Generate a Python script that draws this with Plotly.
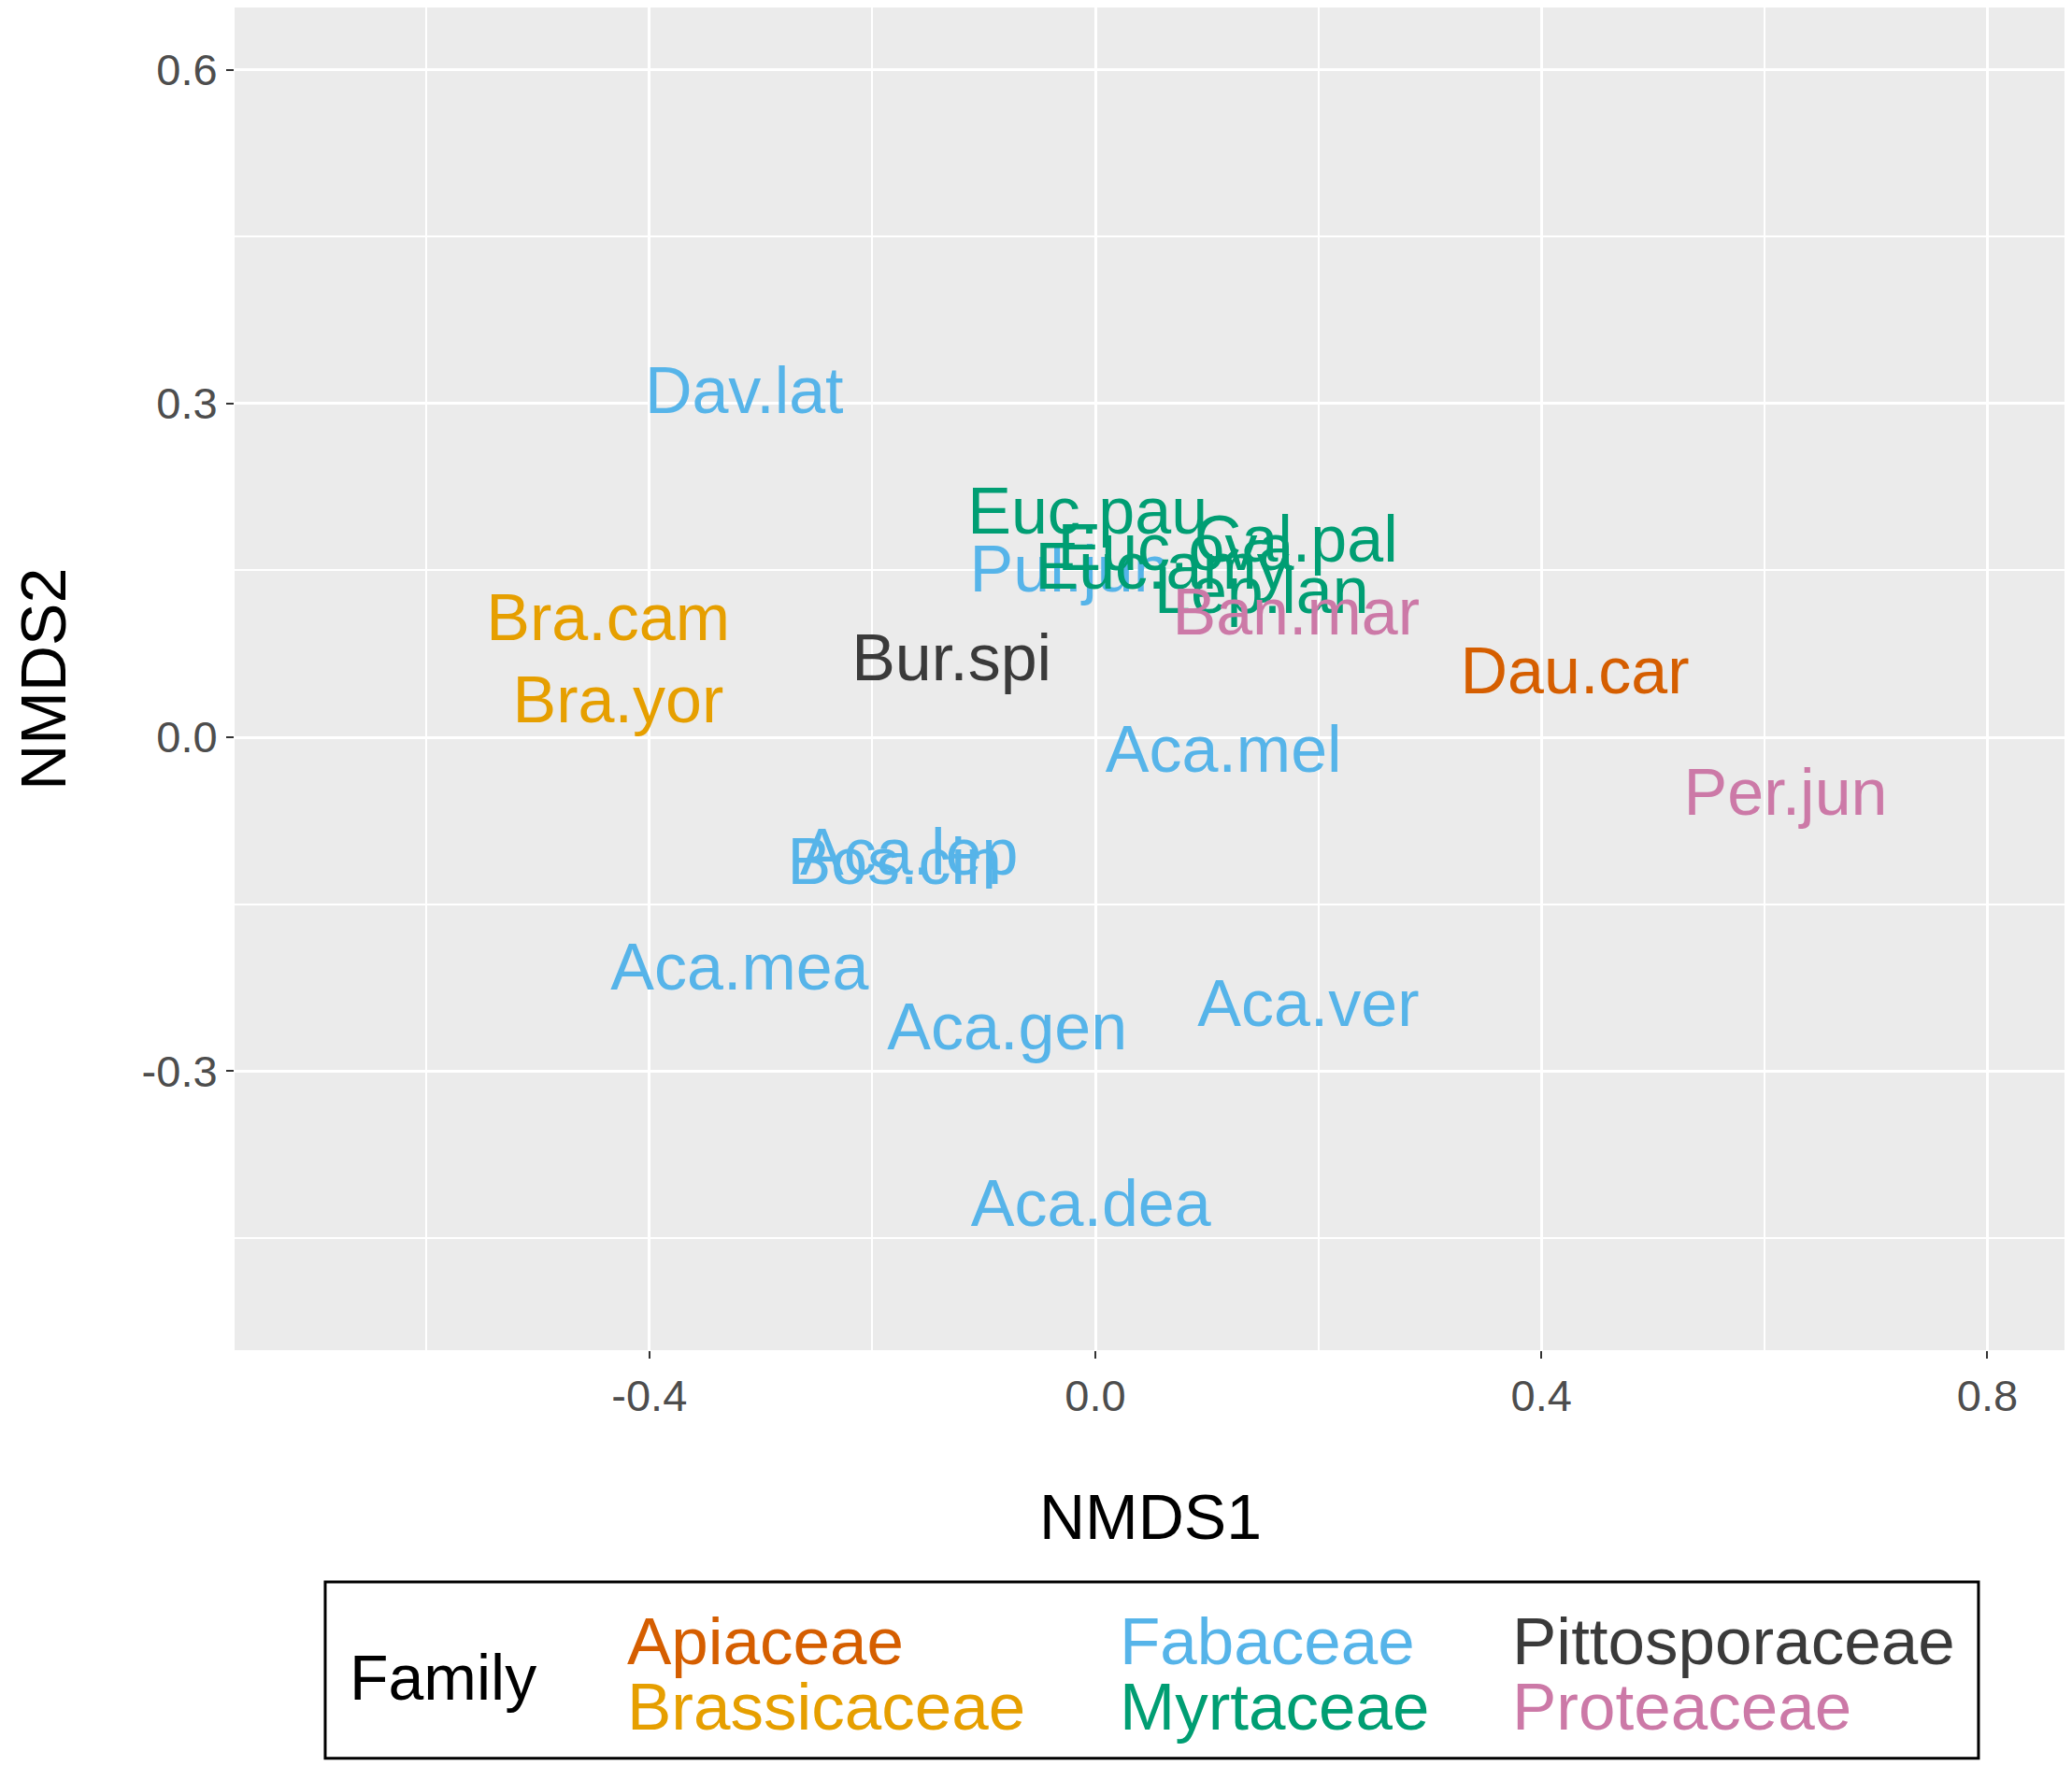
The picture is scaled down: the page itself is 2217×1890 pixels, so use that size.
import plotly.graph_objects as go

# NMDS scores
species = ['Dav.lat', 'Euc.pau', 'Euc.ova', 'Euc.amy', 'Cal.pal', 'Lep.lan',
           'Pul.jun', 'Ban.mar', 'Bra.cam', 'Bra.yor', 'Bur.spi', 'Dau.car',
           'Aca.mel', 'Per.jun', 'Aca.lep', 'Bos.cin', 'Aca.mea', 'Aca.gen',
           'Aca.ver', 'Aca.dea']
nmds1 = [-0.315, -0.007, 0.072, 0.060, 0.180, 0.149,
         -0.023, 0.180, -0.437, -0.428, -0.129, 0.430,
         0.115, 0.619, -0.167, -0.180, -0.319, -0.079,
         0.191, -0.004]
nmds2 = [0.306, 0.198, 0.165, 0.148, 0.173, 0.126,
         0.146, 0.107, 0.102, 0.028, 0.066, 0.054,
         -0.016, -0.055, -0.109, -0.117, -0.212, -0.266,
         -0.245, -0.425]
family = ['Fabaceae', 'Myrtaceae', 'Myrtaceae', 'Myrtaceae', 'Myrtaceae', 'Myrtaceae',
          'Fabaceae', 'Proteaceae', 'Brassicaceae', 'Brassicaceae', 'Pittosporaceae', 'Apiaceae',
          'Fabaceae', 'Proteaceae', 'Fabaceae', 'Fabaceae', 'Fabaceae', 'Fabaceae',
          'Fabaceae', 'Fabaceae']

families = ['Apiaceae', 'Brassicaceae', 'Fabaceae', 'Myrtaceae', 'Pittosporaceae', 'Proteaceae']
fam_colors = ['#D55E00', '#E69F00', '#56B4E9', '#009E73', '#3A3A3A', '#CC79A7']

# tick labels (ggplot prints a plain hyphen for negatives)
x_ticks = [-0.4, 0.0, 0.4, 0.8]
x_labels = ['-0.4', '0.0', '0.4', '0.8']
y_ticks = [-0.3, 0.0, 0.3, 0.6]
y_labels = ['-0.3', '0.0', '0.3', '0.6']

FONT = 'Liberation Sans, Arial, sans-serif'

fig = go.Figure()
for fam, col in zip(families, fam_colors):
    idx = [i for i, f in enumerate(family) if f == fam]
    fig.add_trace(go.Scatter(
        x=[nmds1[i] for i in idx],
        y=[nmds2[i] for i in idx],
        text=[species[i] for i in idx],
        mode='text',
        textposition='middle center',
        textfont=dict(color=col, size=70, family=FONT),
        name=fam,
        showlegend=False,
    ))

# legend drawn by hand, ggplot style (title left, two rows of coloured text)
annots = [
    dict(text='NMDS1', xref='paper', yref='paper', x=0.5, y=-0.124,
         xanchor='center', yanchor='middle', showarrow=False,
         font=dict(size=68, color='black', family=FONT)),
    dict(text='NMDS2', xref='paper', yref='paper', x=-0.105, y=0.5,
         xanchor='center', yanchor='middle', textangle=-90, showarrow=False,
         font=dict(size=68, color='black', family=FONT)),
    dict(text='Family', xref='paper', yref='paper', x=0.062, y=-0.2435,
         xanchor='left', yanchor='middle', showarrow=False,
         font=dict(size=68, color='black', family=FONT)),
]
col_x = [0.2133, 0.4823, 0.6967]
for k, (fam, col) in enumerate(zip(families, fam_colors)):
    annots.append(dict(
        text=fam, xref='paper', yref='paper',
        x=col_x[k // 2], y=-0.2170 if k % 2 == 0 else -0.2656,
        xanchor='left', yanchor='middle', showarrow=False,
        font=dict(size=71, color=col, family=FONT)))

fig.update_layout(
    width=2209,
    height=1882,
    margin=dict(l=243, r=7, t=0, b=445),
    paper_bgcolor='white',
    plot_bgcolor='#EBEBEB',
    font=dict(family=FONT),
    annotations=annots,
    shapes=[dict(type='rect', xref='paper', yref='paper',
                 x0=0.0495, x1=0.9525, y0=-0.3039, y1=-0.1725,
                 line=dict(color='black', width=3), fillcolor='white')],
    xaxis=dict(
        range=[-0.772, 0.870],
        tickvals=x_ticks, ticktext=x_labels,
        showgrid=True, gridcolor='white', gridwidth=3,
        minor=dict(dtick=0.2, tick0=0, showgrid=True, gridcolor='white', gridwidth=1.5),
        zeroline=False, showline=False,
        ticks='outside', ticklen=8, tickwidth=2, tickcolor='#333333',
        tickfont=dict(size=47, color='#4D4D4D', family=FONT),
    ),
    yaxis=dict(
        range=[-0.551, 0.656],
        tickvals=y_ticks, ticktext=y_labels,
        showgrid=True, gridcolor='white', gridwidth=3,
        minor=dict(dtick=0.15, tick0=0, showgrid=True, gridcolor='white', gridwidth=1.5),
        zeroline=False, showline=False,
        ticks='outside', ticklen=8, tickwidth=2, tickcolor='#333333',
        tickfont=dict(size=47, color='#4D4D4D', family=FONT),
    ),
)

fig.write_html('out.html')
